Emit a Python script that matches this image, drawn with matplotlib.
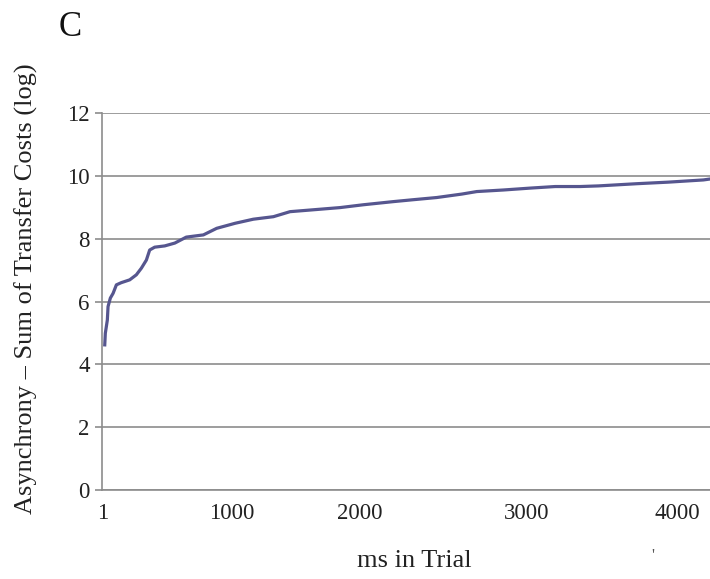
import numpy as np
import matplotlib
matplotlib.use('Agg')
import matplotlib.pyplot as plt

plt.rcParams['font.family'] = ['Liberation Serif', 'DejaVu Serif']

# curve (x in chart position units, y = log sum of costs)
ms = [13, 17, 31, 36, 52, 71, 94, 128, 187, 233, 268, 303, 326, 361, 431, 501,
      581, 700, 793, 921, 1048, 1188, 1304, 1466, 1653, 1815, 2024, 2161, 2326,
      2501, 2605, 2791, 2977, 3151, 3325, 3453, 3720, 3940, 4184, 4231]
cost = [4.62, 4.99, 5.41, 5.84, 6.11, 6.26, 6.53, 6.60, 6.69, 6.85, 7.06, 7.32,
        7.64, 7.73, 7.77, 7.86, 8.05, 8.12, 8.33, 8.49, 8.62, 8.70, 8.86, 8.92,
        8.99, 9.08, 9.18, 9.24, 9.31, 9.42, 9.50, 9.55, 9.61, 9.66, 9.66, 9.68,
        9.75, 9.80, 9.87, 9.90]

tick_pos = [1, 900, 1792, 2955, 4000]
tick_labels = ['1', '1000', '2000', '3000', '4000']
y_ticks = [0, 2, 4, 6, 8, 10, 12]

grey = '#8c8c8c'

fig = plt.figure(figsize=(7.1, 5.79), dpi=100)
ax = fig.add_axes([0.1437, 0.1537, 0.8563, 0.6511])

ax.plot(ms, cost, color='#56568f', lw=2.3, solid_joinstyle='round')

ax.set_xlim(-6, 4230)
ax.set_ylim(0, 12)
ax.set_yticks(y_ticks)
ax.set_xticks(tick_pos)
ax.set_xticklabels(tick_labels)
ax.yaxis.grid(True, color=grey, lw=1.2)
ax.set_axisbelow(True)

for s in ['top', 'right']:
    ax.spines[s].set_visible(False)
for s in ['left', 'bottom']:
    ax.spines[s].set_color(grey)
    ax.spines[s].set_linewidth(1.2)

ax.tick_params(axis='y', length=5, width=1.2, color=grey, pad=4, labelsize=16.5, labelcolor='#222222')
ax.tick_params(axis='x', length=0, pad=9, labelsize=16.5, labelcolor='#222222')

fig.text(414 / 710, 1 - 561 / 579, 'ms in Trial', ha='center', va='center', fontsize=19, color='#222222')
fig.text(26 / 710, 1 - 289 / 579, 'Asynchrony \u2013 Sum of Transfer Costs (log)', rotation=90,
         ha='center', va='center', fontsize=19, color='#222222')
fig.text(70 / 710, 1 - 28 / 579, 'C', ha='center', va='center', fontsize=25, color='#111111')
fig.text(653 / 710, 1 - 556 / 579, "'", ha='center', va='center', fontsize=12, color='#555555')

fig.savefig('out.png', dpi=100)
